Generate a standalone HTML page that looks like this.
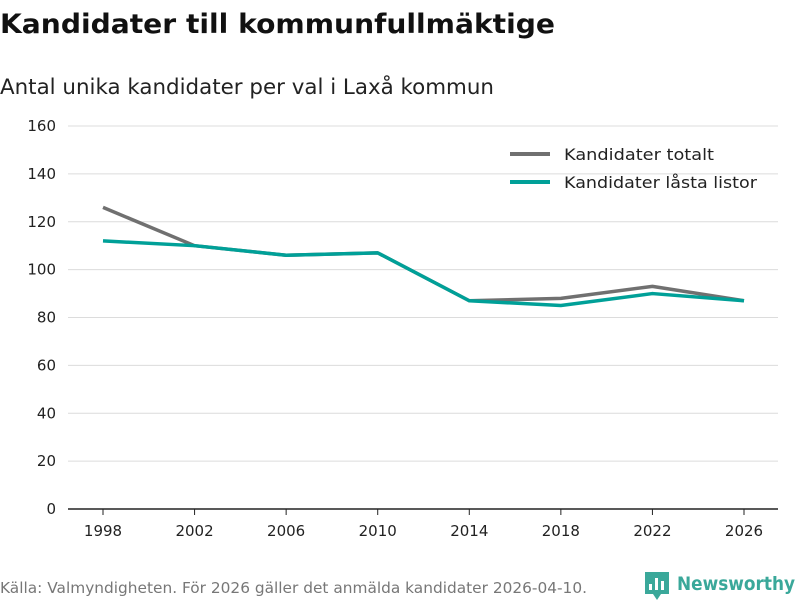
<!DOCTYPE html>
<html><head><meta charset="utf-8"><style>
body{margin:0;background:#fff;width:800px;height:600px;overflow:hidden;font-family:"DejaVu Sans","Liberation Sans",sans-serif;}
</style></head><body>
<svg width="800" height="600">
<text x="0" y="33" font-size="27" font-weight="bold" fill="#111" textLength="555" lengthAdjust="spacingAndGlyphs">Kandidater till kommunfullmäktige</text>
<text x="0" y="94" font-size="21.5" fill="#222" textLength="494" lengthAdjust="spacingAndGlyphs">Antal unika kandidater per val i Laxå kommun</text>
<g id="grid"></g><g id="axes"></g><g id="lines"></g>
<g>
<line x1="510" y1="154" x2="550" y2="154" stroke="#707070" stroke-width="4"/>
<text x="564" y="160" font-size="16" fill="#222" textLength="150" lengthAdjust="spacingAndGlyphs">Kandidater totalt</text>
<line x1="510" y1="182" x2="550" y2="182" stroke="#00a098" stroke-width="4"/>
<text x="564" y="188" font-size="16" fill="#222" textLength="193" lengthAdjust="spacingAndGlyphs">Kandidater låsta listor</text>
</g>
<text x="0" y="593" font-size="15" fill="#777" textLength="587" lengthAdjust="spacingAndGlyphs">Källa: Valmyndigheten. För 2026 gäller det anmälda kandidater 2026-04-10.</text>
<g>
<path d="M645 572h24v22h-8l-4 6-4-6h-8z" fill="#3aa89a"/>
<rect x="649" y="584" width="3" height="6" fill="#fff"/><rect x="655" y="578" width="3" height="12" fill="#fff"/><rect x="661" y="581" width="3" height="9" fill="#fff"/>
<text x="677" y="590" font-size="19" font-weight="bold" fill="#3aa89a" textLength="118" lengthAdjust="spacingAndGlyphs">Newsworthy</text>
</g>
</svg>
<script>
const years=[1998,2002,2006,2010,2014,2018,2022,2026];
const totalt=[126,110,106,107,87,88,93,87];
const lasta=[112,110,106,107,87,85,90,87];
const yTicks=[0,20,40,60,80,100,120,140,160];
const NS="http://www.w3.org/2000/svg";
const x=v=>103+(v-1998)*(641/28);
const y=v=>509-v*(383/160);
function mk(t,a,p){const e=document.createElementNS(NS,t);for(const k in a)e.setAttribute(k,a[k]);p.appendChild(e);return e;}
const grid=document.getElementById('grid'),axes=document.getElementById('axes'),lines=document.getElementById('lines');
yTicks.forEach(v=>{
 if(v>0){const g=mk('line',{x1:68,x2:778,y1:y(v),y2:y(v),stroke:'#dcdcdc','stroke-width':1},grid);
 
 }
 const t=mk('text',{x:56,y:y(v)+5,'font-size':15,fill:'#222','text-anchor':'end'},axes);t.textContent=v;
 
 
});
const ax=mk('line',{x1:68,x2:778,y1:509,y2:509,stroke:'#222','stroke-width':1.5},axes);


years.forEach(v=>{
 mk('line',{x1:x(v),x2:x(v),y1:509,y2:515,stroke:'#222'},axes);
 const t=mk('text',{x:x(v),y:536,'font-size':15,fill:'#222','text-anchor':'middle'},axes);t.textContent=v;
 
 
});
function series(d,c,n){const p=mk('polyline',{points:d.map((v,i)=>x(years[i])+','+y(v)).join(' '),fill:'none',stroke:c,'stroke-width':3.5,'stroke-linejoin':'round'},lines);
 
 }
series(totalt,'#707070','line-totalt');
series(lasta,'#00a098','line-lasta');
</script>
</body></html>
